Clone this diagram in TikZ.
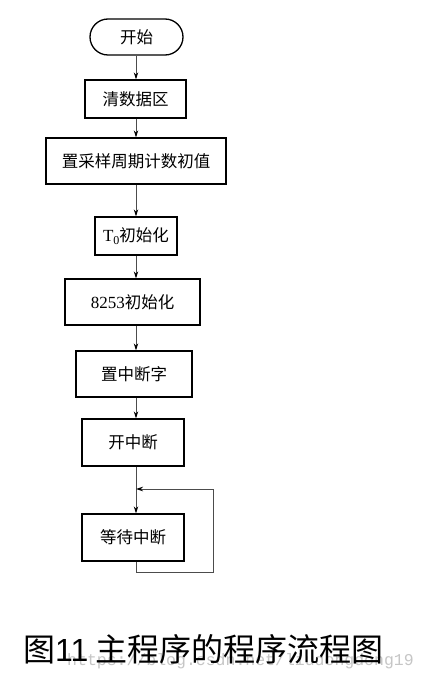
\documentclass[tikz,border=0pt]{standalone}
\usepackage{fontspec}
\setmainfont{Liberation Serif}
\newfontfamily\cjk{Noto Sans CJK SC}
\newfontfamily\latinsans{Liberation Sans}
\newfontfamily\latinserif{Liberation Serif}
\newfontfamily\latinmono{Liberation Mono}
\usetikzlibrary{arrows.meta}
\tikzset{
  box/.style={draw=black, line width=1.3pt, inner sep=0pt, font=\fontsize{16.5}{16.5}\selectfont\cjk},
  conn/.style={draw=black!70, line width=0.9pt, -{Stealth[length=7pt,width=4.5pt,black]}},
  plain/.style={draw=black!70, line width=0.9pt},
}
\begin{document}
\begin{tikzpicture}[x=1pt,y=-1pt]
\useasboundingbox[fill=white] (0,0) rectangle (427,679);
\coordinate (col) at (136,0);
\node[box, rounded corners=18pt, minimum width=93pt, minimum height=36pt] (start) at (136.5,37) {开始};
\node[box, minimum width=101pt, minimum height=38pt] (b1) at (135.5,99) {清数据区};
\node[box, minimum width=180pt, minimum height=46pt] (b2) at (136,161) {置采样周期计数初值};
\node[box, minimum width=82pt, minimum height=38pt] (b3) at (136,236) {{\latinserif\fontsize{17}{17}\selectfont T\raisebox{-3pt}{\fontsize{12}{12}\selectfont 0}}初始化};
\node[box, minimum width=135pt, minimum height=46pt] (b4) at (132.5,302) {{\latinserif\fontsize{17}{17}\selectfont 8253}初始化};
\node[box, minimum width=116pt, minimum height=46pt] (b5) at (134,374) {置中断字};
\node[box, minimum width=102pt, minimum height=47pt] (b6) at (133,442.5) {开中断};
\node[box, minimum width=102pt, minimum height=47pt] (b7) at (133,537.5) {等待中断};
\draw[conn] (start.south -| col) -- (b1.north -| col);
\draw[conn] (b1.south -| col) -- (b2.north -| col);
\draw[conn] (b2.south -| col) -- (b3.north -| col);
\draw[conn] (b3.south -| col) -- (b4.north -| col);
\draw[conn] (b4.south -| col) -- (b5.north -| col);
\draw[conn] (b5.south -| col) -- (b6.north -| col);
\coordinate (join) at (136,489);
\coordinate (loopbot) at (136,572);
\coordinate (loopright) at (213,572);
\coordinate (looptop) at (213,489);
\draw[conn] (b6.south -| col) -- (b7.north -| col);
\draw[plain] (b7.south -| col) -- (loopbot) -- (loopright) -- (looptop);
\draw[conn] (looptop) -- (join);
\node[anchor=west, inner sep=0pt, text=gray!45, font=\fontsize{16.5}{16.5}\selectfont\latinmono] (wm) at (67,661) {https://blog.csdn.net/liudongdong19};
\node[anchor=west, inner sep=0pt, font=\fontsize{32}{32}\selectfont\cjk] (cap) at (23,649) {图{\latinsans 11} 主程序的程序流程图};
\end{tikzpicture}
\end{document}
